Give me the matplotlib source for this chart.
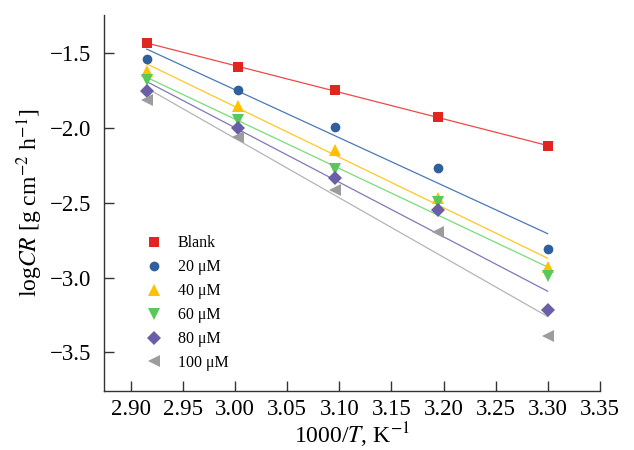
import numpy as np
import matplotlib
matplotlib.use('Agg')
import matplotlib.pyplot as plt

plt.rcParams['font.family'] = ['Liberation Serif', 'DejaVu Serif']
plt.rcParams['mathtext.fontset'] = 'stix'

# 1000/T values (T = 343, 333, 323, 313, 303 K)
inv_T = [2.915, 3.003, 3.096, 3.195, 3.300]

labels = ['Blank', '20 μM', '40 μM', '60 μM', '80 μM', '100 μM']
log_cr = [
    [-1.433, -1.596, -1.747, -1.929, -2.122],
    [-1.540, -1.747, -1.993, -2.269, -2.811],
    [-1.620, -1.851, -2.145, -2.467, -2.929],
    [-1.683, -1.945, -2.278, -2.492, -2.989],
    [-1.751, -2.000, -2.333, -2.549, -3.218],
    [-1.811, -2.063, -2.413, -2.693, -3.393],
]
markers = ['s', 'o', '^', 'v', 'D', '<']
colors = ['#e0261e', '#2f5f9c', '#ffc000', '#58c858', '#6a5ea6', '#9c9c9c']
line_colors = ['#f04848', '#4a78b8', '#ffc820', '#78dc78', '#8078b8', '#b4b4b4']
sizes = [7, 7, 8, 8, 7, 8]

fig = plt.figure(figsize=(6.34, 4.5), dpi=100)
ax = fig.add_axes([0.164, 0.131, 0.782, 0.836])

x = np.array(inv_T)
for y, lab, m, c, lc, s in zip(log_cr, labels, markers, colors, line_colors, sizes):
    y = np.array(y)
    k, b = np.polyfit(x, y, 1)
    ax.plot(x, k * x + b, color=lc, lw=0.9, zorder=2)
    ax.plot(x, y, linestyle='none', marker=m, color=c, markersize=s,
            markeredgewidth=0, label=lab, zorder=3)

ax.set_xlim(2.874, 3.35)
ax.set_ylim(-3.758, -1.245)
ax.set_xticks(np.arange(2.90, 3.351, 0.05))
ax.set_xticklabels(['%.2f' % v for v in np.arange(2.90, 3.351, 0.05)])
ax.set_yticks([-1.5, -2.0, -2.5, -3.0, -3.5])

for side in ['top', 'right']:
    ax.spines[side].set_visible(False)
for side in ['left', 'bottom']:
    ax.spines[side].set_linewidth(1.0)
    ax.spines[side].set_color('#333333')

ax.tick_params(direction='in', length=7, width=1, labelsize=16.5, color='#333333')
ax.tick_params(axis='x', pad=6)
ax.tick_params(axis='y', pad=9)

ax.set_xlabel(r'1000/$T$, K$^{-1}$', fontsize=17, labelpad=0)
ax.set_ylabel(r'log$CR$ [g cm$^{-2}$ h$^{-1}$]', fontsize=17, labelpad=4)

ax.legend(loc='lower left', bbox_to_anchor=(0.028, 0.0), frameon=False,
          fontsize=11.5, handletextpad=0.5, labelspacing=0.5, borderpad=0.75)

fig.savefig('out.png', dpi=100)
